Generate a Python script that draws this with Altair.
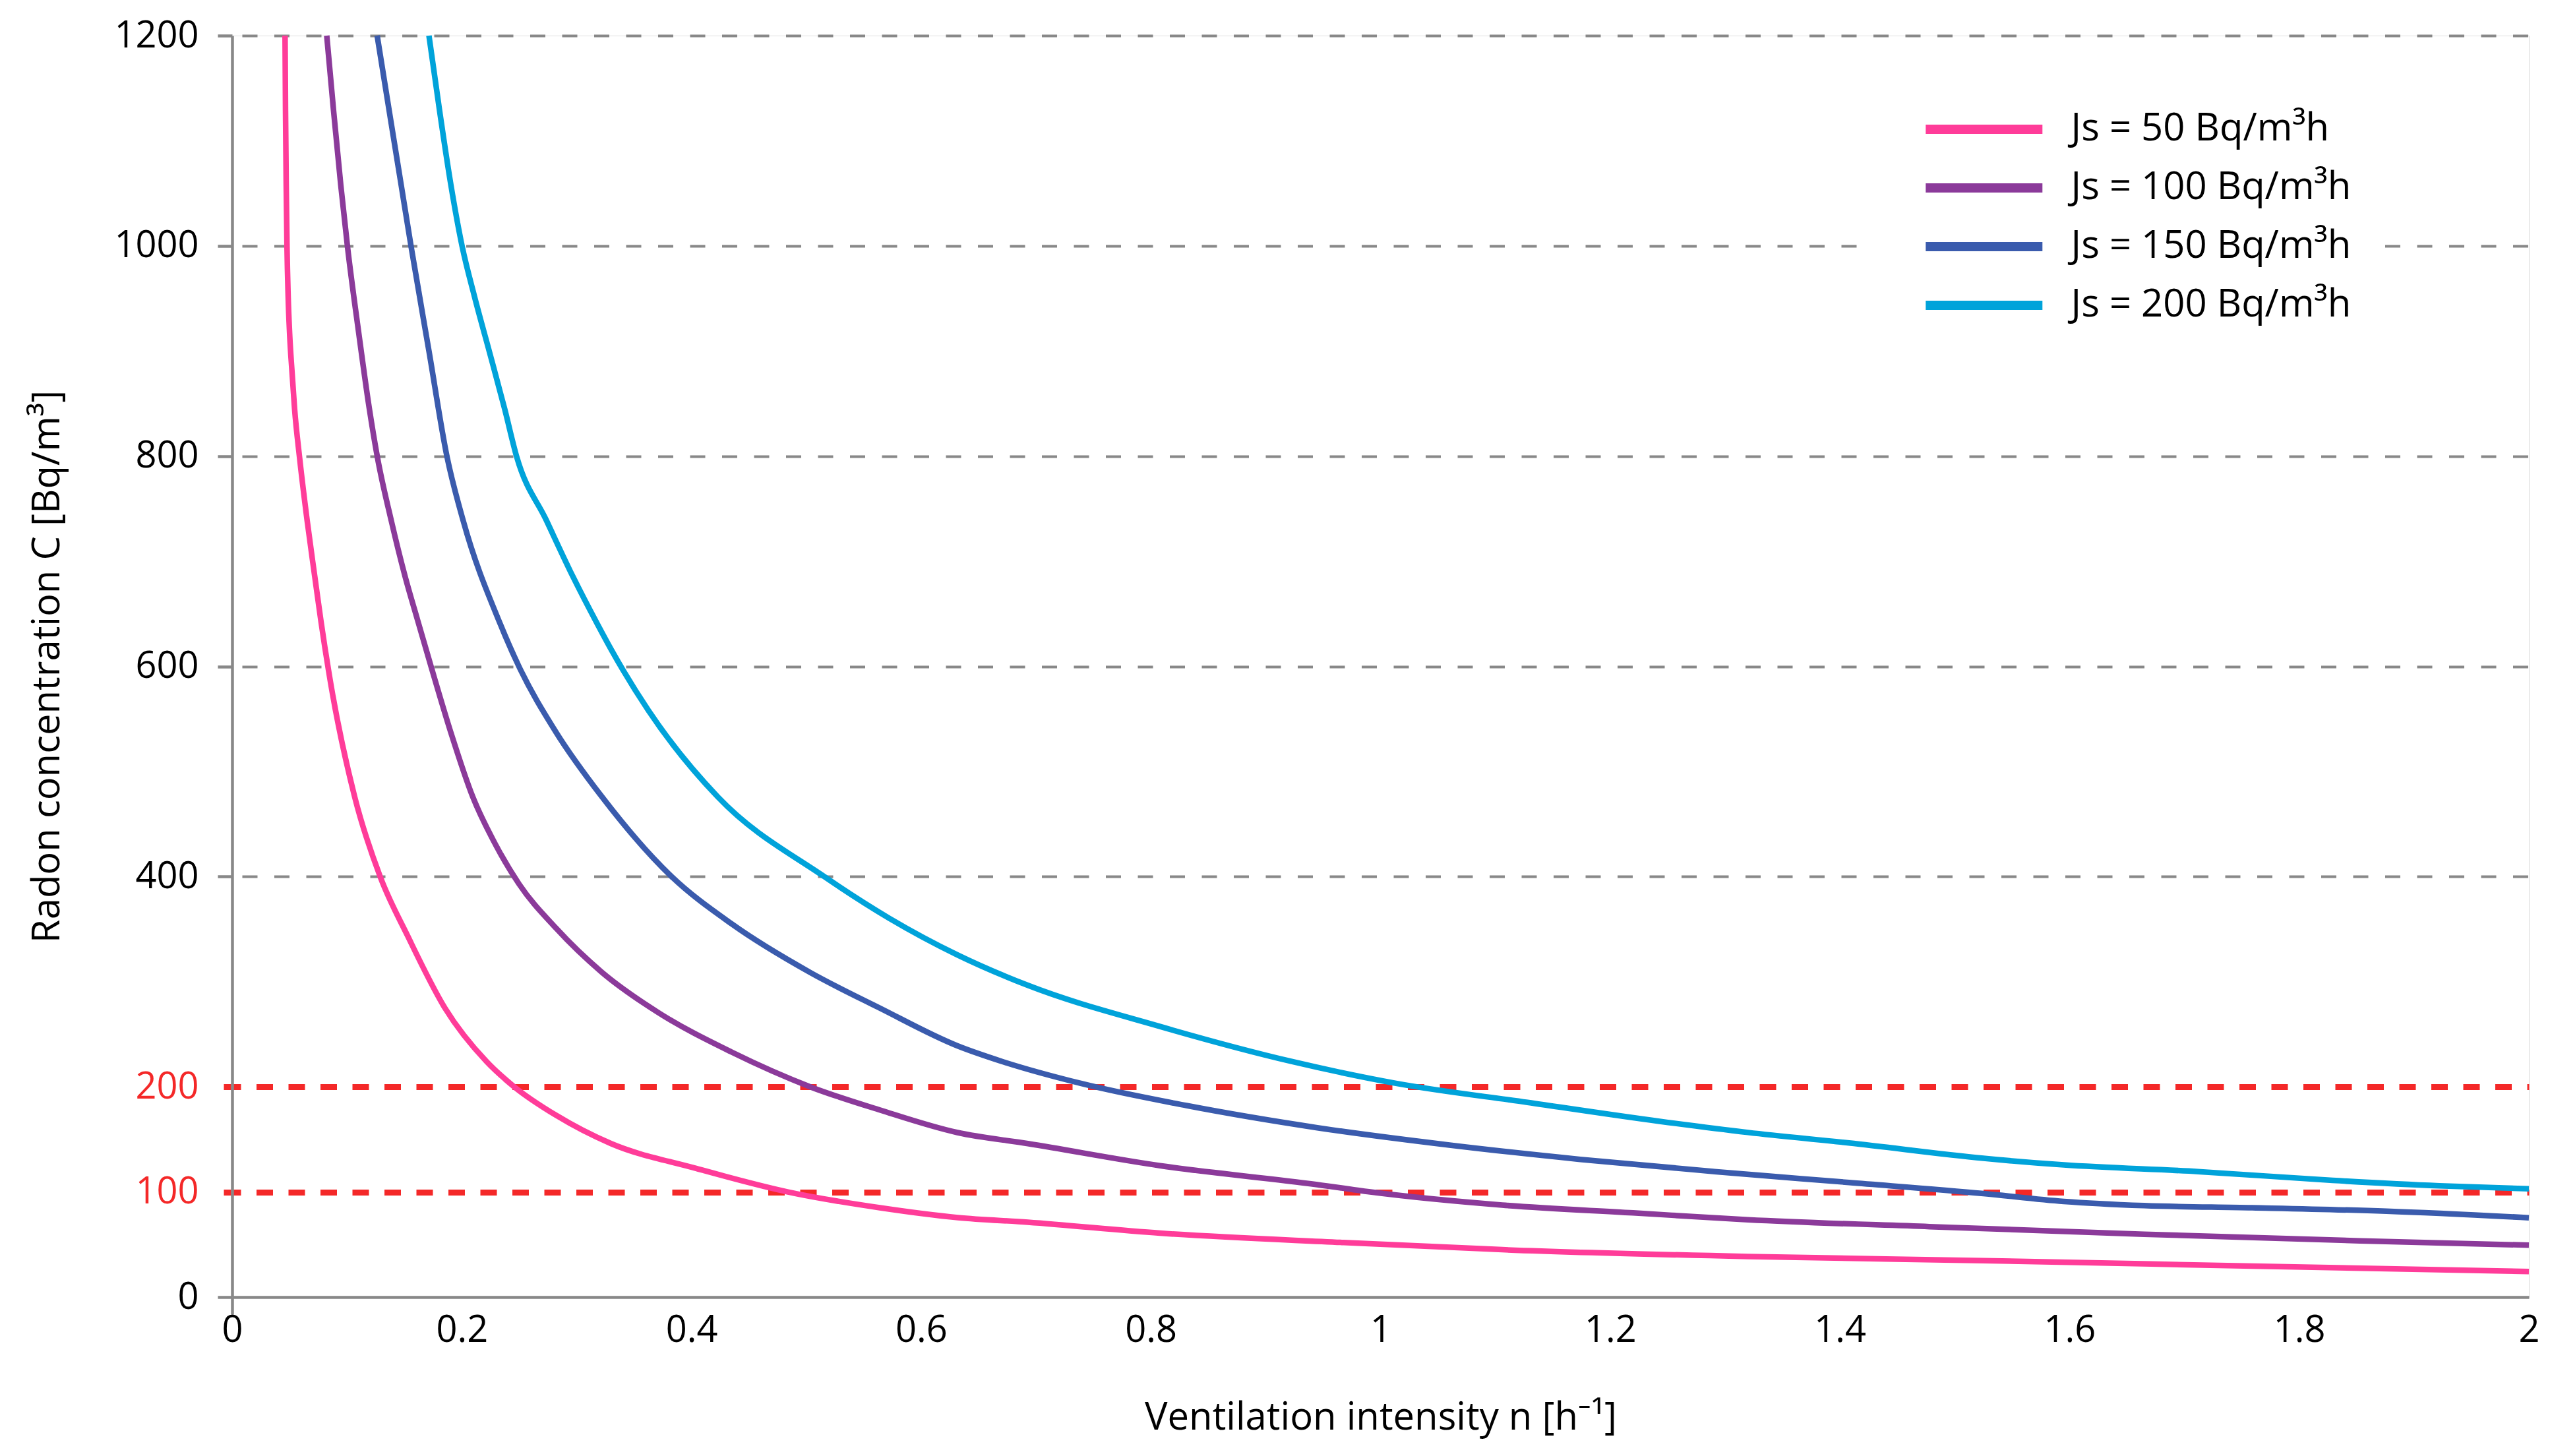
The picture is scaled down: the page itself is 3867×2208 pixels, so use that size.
import altair as alt
import pandas as pd

# ---- data ----
series_labels = ["Js = 50 Bq/m³h", "Js = 100 Bq/m³h", "Js = 150 Bq/m³h", "Js = 200 Bq/m³h"]
series_colors = ["#FF3C99", "#8B3A9A", "#3A5BAD", "#00A3DA"]

n50 = [0.0461, 0.0465, 0.0471, 0.0478, 0.0488, 0.0501, 0.0521, 0.0544, 0.0587, 0.0653, 0.0719, 0.0775,
       0.0866, 0.1067, 0.1289, 0.1531, 0.1853, 0.2216, 0.2457, 0.282, 0.330, 0.403, 0.484, 0.564,
       0.632, 0.693, 0.808, 0.968, 1.106, 1.320, 1.525, 1.759, 2.0]
c50 = [1200, 1129, 1058, 999, 952, 916, 881, 845, 799, 739, 686, 642,
       579, 476, 400, 343, 275, 224, 200, 173, 146, 122.7, 100, 85,
       75.6, 71.2, 60.8, 51.9, 45.1, 38.6, 34.7, 29.5, 24.3]

n100 = [0.0824, 0.0883, 0.0946, 0.1005, 0.1104, 0.1195, 0.1265, 0.1385, 0.1505, 0.1615, 0.1732, 0.1905,
        0.2095, 0.2296, 0.2498, 0.282, 0.322, 0.3706, 0.435, 0.5035, 0.564, 0.6316, 0.693, 0.808,
        0.945, 0.991, 1.106, 1.220, 1.320, 1.478, 1.665, 1.853, 2.0]
c100 = [1200, 1129, 1058, 999, 916, 845, 799, 739, 686, 644, 600, 537,
        476, 430, 393, 351, 309, 271, 233, 200, 178, 156.5, 146, 125,
        107, 100, 87.5, 80.1, 73.6, 67, 59.8, 53.5, 49.4]

n150 = [0.1263, 0.1367, 0.1472, 0.1559, 0.1714, 0.1872, 0.2011, 0.2336, 0.2497, 0.282, 0.3222, 0.3827,
        0.435, 0.5035, 0.564, 0.6316, 0.670, 0.739, 0.831, 0.945, 1.060, 1.174, 1.291, 1.408,
        1.525, 1.595, 1.665, 1.759, 1.876, 2.0]
c150 = [1200, 1129, 1058, 999, 900, 799, 739, 640, 600, 537.5, 475.7, 400,
        355, 308.7, 274.9, 239, 224.3, 203.3, 182.2, 161.1, 144.6, 131, 119.4, 109,
        98.5, 91, 87, 85, 81.7, 75.5]

n200 = [0.1714, 0.1806, 0.1905, 0.2004, 0.211, 0.2241, 0.2373, 0.2479, 0.2736, 0.2965, 0.3182, 0.3303,
        0.3625, 0.423, 0.5156, 0.572, 0.6316, 0.693, 0.808, 0.922, 1.0135, 1.128, 1.243, 1.320,
        1.408, 1.525, 1.595, 1.712, 1.829, 1.922, 2.0]
c200 = [1200, 1129, 1058, 999, 952, 899, 845, 799, 739, 686, 640, 615.6,
        558, 475.7, 400, 360.5, 325.5, 296.5, 257.4, 224.3, 203.3, 185.2, 167.2, 156.6,
        146.6, 132, 125.7, 119.4, 111, 105.8, 103]

x_ticks = [0, 0.2, 0.4, 0.6, 0.8, 1.0, 1.2, 1.4, 1.6, 1.8, 2.0]
y_ticks = [0, 100, 200, 400, 600, 800, 1000, 1200]

rows = []
for lab, ns, cs in zip(series_labels, [n50, n100, n150, n200], [c50, c100, c150, c200]):
    for i, (n, c) in enumerate(zip(ns, cs)):
        rows.append({"series": lab, "n": n, "C": c, "order": i})
df = pd.DataFrame(rows)

FONT = "Open Sans"
GRAY = "#888888"
RED = "#F42828"
is_limit = "datum.value == 100 || datum.value == 200"

x_axis = alt.Axis(
    values=x_ticks, format="~g", grid=False,
    domainColor=GRAY, domainWidth=4.5,
    ticks=True, tickSize=26, tickWidth=4.5, tickColor=GRAY,
    tickOpacity={"condition": {"test": "datum.value == 0", "value": 1}, "value": 0},
    labelFont=FONT, labelFontSize=56, labelColor="black", labelPadding=-3,
    labelFlush=False,
    title="Ventilation intensity n [h⁻¹]", titleFont=FONT, titleFontSize=58,
    titleFontWeight="normal", titleColor="black",
    titleBaseline="alphabetic", titleY=200,
)

y_axis = alt.Axis(
    values=y_ticks, format="d", grid=True,
    domainColor=GRAY, domainWidth=4.5,
    gridColor={"condition": {"test": is_limit, "value": RED}, "value": GRAY},
    gridWidth={"condition": {"test": is_limit, "value": 9}, "value": 4},
    gridDash={"condition": {"test": is_limit, "value": [25, 23.5]}, "value": [23, 25.5]},
    gridDashOffset={"condition": {"test": is_limit, "value": 12}, "value": 33.5},
    gridOpacity={"condition": {"test": "datum.value == 0", "value": 0}, "value": 1},
    ticks=True, tickSize=22,
    tickColor={"condition": {"test": is_limit, "value": RED}, "value": GRAY},
    tickWidth={"condition": {"test": is_limit, "value": 9}, "value": 4.5},
    tickDash={"condition": {"test": is_limit, "value": [13, 40]}, "value": [30, 0]},
    labelFont=FONT, labelFontSize=56, labelPadding=29,
    labelColor={"condition": {"test": is_limit, "value": RED}, "value": "black"},
    title="Radon concentration C [Bq/m³]", titleFont=FONT, titleFontSize=58,
    titleFontWeight="normal", titleColor="black",
    titleAngle=-90, titleBaseline="alphabetic", titleX=-263,
)

legend = alt.Legend(
    title=None, orient="none", legendX=2469, legendY=77,
    direction="vertical",
    symbolType="M-5,0H5", symbolSize=1253, symbolStrokeWidth=14, symbolOffset=122.8,
    symbolFillColor="transparent",
    labelFont=FONT, labelFontSize=58, labelColor="black", labelOffset=102.8,
    labelLimit=1000,
    padding=36, fillColor="white", strokeColor="white",
    rowPadding=31,
)

chart = alt.Chart(df).mark_line(strokeWidth=8.5, interpolate="monotone").encode(
    x=alt.X("n:Q", scale=alt.Scale(domain=[0, 2], nice=False, zero=True), axis=x_axis),
    y=alt.Y("C:Q", scale=alt.Scale(domain=[0, 1200], nice=False), axis=y_axis),
    color=alt.Color("series:N",
                    scale=alt.Scale(domain=series_labels, range=series_colors),
                    sort=series_labels, legend=legend),
    order="order:Q",
).properties(
    width=3483, height=1913,
    autosize=alt.AutoSizeParams(type="none"),
    padding={"left": 344, "top": 46, "right": 24, "bottom": 233},
).configure_view(stroke=None).configure(background="white")

chart.save("out.html", embed_options={"renderer": "svg", "actions": False})
